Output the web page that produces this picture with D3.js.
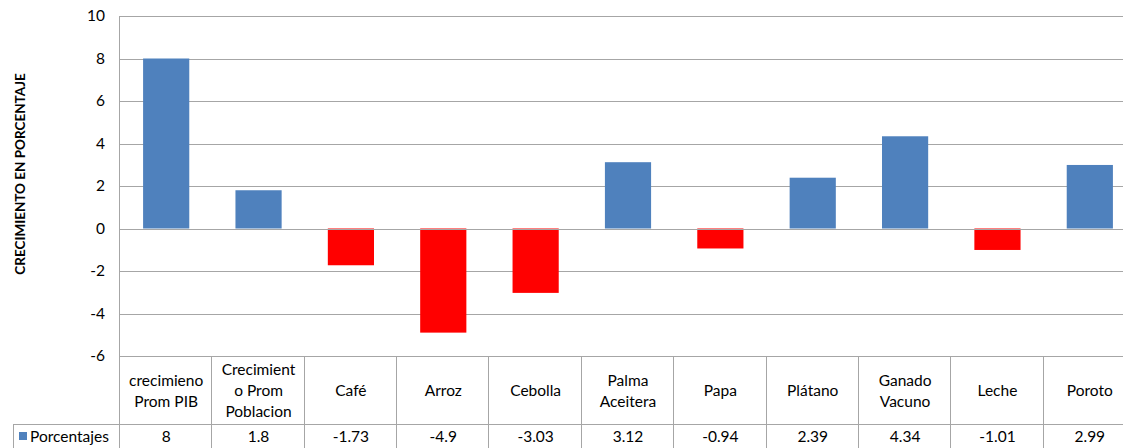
<!DOCTYPE html>
<html>
<head>
<meta charset="utf-8">
<script src="https://cdn.jsdelivr.net/npm/d3@7"></script>
<style>
  body { margin: 0; background: #fff; overflow: hidden; }
  svg { display: block; font-family: Lato, "Open Sans", sans-serif; }
</style>
</head>
<body>
<div class="chart_container"></div>
<script>
const categories = [
  "crecimieno\nProm PIB", "Crecimient\no Prom\nPoblacion", "Café", "Arroz", "Cebolla",
  "Palma\nAceitera", "Papa", "Plátano", "Ganado\nVacuno", "Leche", "Poroto"
];
const values = [8, 1.8, -1.73, -4.9, -3.03, 3.12, -0.94, 2.39, 4.34, -1.01, 2.99];
const valueLabels = ["8", "1.8", "-1.73", "-4.9", "-3.03", "3.12", "-0.94", "2.39", "4.34", "-1.01", "2.99"];
const yTicks = [-6, -4, -2, 0, 2, 4, 6, 8, 10];
const seriesName = "Porcentajes";
const yTitle = "CRECIMIENTO EN PORCENTAJE";

const width = 1123, height = 448;
const plotLeft = 120, plotRight = 1136;
const plotTop = 16, plotBottom = 356;
const rowSplit = 424;
const gridColor = "#a6a6a6";
const fs = 15.5;

const svg = d3.select('.chart_container').append('svg')
  .attr('width', width).attr('height', height);

const x = d3.scaleBand().domain(d3.range(categories.length)).range([plotLeft, plotRight]).paddingInner(0);
const y = d3.scaleLinear().domain([-6, 10]).range([plotBottom, plotTop]);
const barW = x.bandwidth() * 0.5;

// gridlines
svg.append('g').selectAll('line')
  .data(yTicks).enter().append('line')
  .attr('x1', plotLeft).attr('x2', plotRight)
  .attr('y1', d => Math.round(y(d)) + 0.5).attr('y2', d => Math.round(y(d)) + 0.5)
  .attr('stroke', gridColor).attr('stroke-width', 1);

// tick labels
svg.append('g').selectAll('text')
  .data(yTicks).enter().append('text')
  .attr('x', 105).attr('y', d => y(d))
  .attr('dy', '0.35em').attr('text-anchor', 'end')
  .attr('font-size', fs).attr('fill', '#000')
  .text(d => d);

// bars
svg.append('g').selectAll('rect')
  .data(values).enter().append('rect')
  .attr('x', (d, i) => x(i) + (x.bandwidth() - barW) / 2)
  .attr('y', d => y(Math.max(0, d)))
  .attr('width', barW)
  .attr('height', d => Math.abs(y(d) - y(0)))
  .attr('fill', d => d < 0 ? '#ff0000' : '#4f81bd');

// zero line
svg.append('line')
  .attr('x1', plotLeft).attr('x2', plotRight)
  .attr('y1', Math.round(y(0)) + 0.5).attr('y2', Math.round(y(0)) + 0.5)
  .attr('stroke', gridColor);

// y axis line through table
svg.append('line')
  .attr('x1', plotLeft - 0.5).attr('x2', plotLeft - 0.5)
  .attr('y1', plotTop).attr('y2', height)
  .attr('stroke', gridColor);

// data table vertical lines
svg.append('g').selectAll('line')
  .data(d3.range(1, categories.length + 1)).enter().append('line')
  .attr('x1', i => Math.round(plotLeft + i * x.bandwidth()) - 0.5)
  .attr('x2', i => Math.round(plotLeft + i * x.bandwidth()) - 0.5)
  .attr('y1', plotBottom).attr('y2', height)
  .attr('stroke', gridColor);

// table row split + legend cell
svg.append('line')
  .attr('x1', 13).attr('x2', plotRight)
  .attr('y1', rowSplit + 0.5).attr('y2', rowSplit + 0.5)
  .attr('stroke', gridColor);
svg.append('line')
  .attr('x1', 13.5).attr('x2', 13.5)
  .attr('y1', rowSplit).attr('y2', height)
  .attr('stroke', gridColor);

// category labels
const lineH = 21;
const catMid = (plotBottom + rowSplit) / 2 + 1;
svg.append('g').selectAll('text')
  .data(categories).enter().append('text')
  .attr('text-anchor', 'middle')
  .attr('font-size', fs).attr('fill', '#000')
  .each(function(d, i) {
    const lines = d.split('\n');
    const t = d3.select(this);
    lines.forEach((ln, k) => {
      t.append('tspan')
        .attr('x', x(i) + x.bandwidth() / 2)
        .attr('y', catMid + (k - (lines.length - 1) / 2) * lineH)
        .attr('dy', '0.35em')
        .text(ln);
    });
  });

// value row
svg.append('g').selectAll('text')
  .data(valueLabels).enter().append('text')
  .attr('x', (d, i) => x(i) + x.bandwidth() / 2)
  .attr('y', 437).attr('dy', '0.35em')
  .attr('text-anchor', 'middle')
  .attr('font-size', fs).attr('fill', '#000')
  .text(d => d);

// legend key
svg.append('rect')
  .attr('x', 19).attr('y', 432).attr('width', 8).attr('height', 8)
  .attr('fill', '#4f81bd');
svg.append('text')
  .attr('x', 30).attr('y', 437).attr('dy', '0.35em')
  .attr('font-size', fs).attr('fill', '#000')
  .text(seriesName);

// y title
svg.append('text')
  .attr('transform', `translate(25, 174) rotate(-90)`)
  .attr('text-anchor', 'middle')
  .attr('font-size', 13.5).attr('font-weight', 'bold').attr('fill', '#000')
  .text(yTitle);
</script>
</body>
</html>
